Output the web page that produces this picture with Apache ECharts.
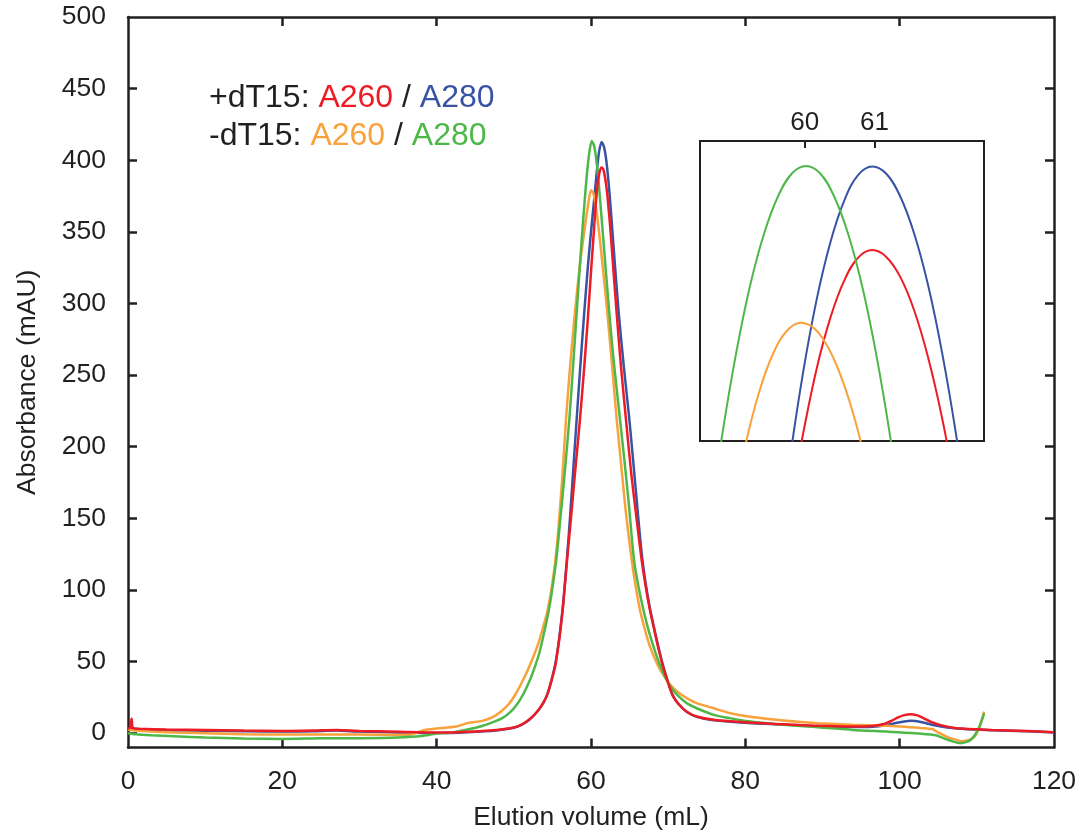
<!DOCTYPE html>
<html>
<head>
<meta charset="utf-8">
<script src="https://cdn.jsdelivr.net/npm/echarts@6/dist/echarts.min.js"></script>
<style>
html,body{margin:0;padding:0;background:#fff;}
#chart{width:1085px;height:838px;}
</style>
</head>
<body>
<div id="chart"></div>
<script>
// ---- Data: [elution volume (mL), absorbance (mAU)] ----
const plusA260 = [[0,3],[0.3,4],[0.47,10],[0.65,3.5],[1.5,3.1],[5,2.6],[10,2.2],[15,1.8],[20,1.6],[24,1.9],[27,2.3],[30,1.6],[35,1.0],[40,0.4],[44,1.0],[47.7,2.3],[50,4],[51,6],[52,9.5],[53,15],[53.8,21],[54.4,28],[54.9,37],[55.4,48],[55.8,62],[56.1,75],[56.4,90],[56.9,121],[57.4,150],[57.9,180],[58.57,219],[59.1,254],[59.6,290],[60.0,322],[60.43,355],[60.6,368],[60.85,383],[61.1,391.5],[61.38,394.9],[61.6,393.6],[61.85,386.9],[62.1,376.7],[62.3,365],[62.45,356],[62.8,331],[63.3,295],[63.9,255],[64.53,219],[65.2,182],[65.9,150],[66.56,121],[67.1,102],[67.64,86],[68.2,72],[68.7,60],[69.3,47],[70.0,35],[70.6,26],[71.4,20],[72.4,15],[73.7,11.6],[75.9,9.3],[80.4,7.4],[84.9,6.3],[89.4,5.1],[93.9,4.6],[96.5,5.0],[97.8,6.2],[99,8.8],[99.8,11],[100.6,12.6],[101.4,13.3],[102.2,12.6],[102.9,11],[104,8],[105.2,5.8],[107.4,3.5],[112,2.3],[116.4,1.6],[120,0.7]];
const plusA280 = [[0,2.5],[0.5,3.5],[1.5,2.6],[5,2.1],[10,1.7],[15,1.3],[20,1.1],[24,1.4],[27,1.8],[30,1.1],[35,0.5],[40,0.1],[44,0.7],[47.7,1.9],[50,3.8],[51,5.8],[52,9.3],[53,14.8],[53.8,21],[54.4,28],[54.9,37.5],[55.4,49],[55.8,63],[56.1,76],[56.4,91],[56.9,123],[57.3,152],[57.7,184],[58.14,219],[58.6,255],[59.1,292],[59.6,326],[60.0,350],[60.4,372],[60.75,392],[61.05,406],[61.38,412.8],[61.7,409],[62.0,399],[62.35,380],[62.7,356],[63.1,327],[63.6,293],[64.25,256],[64.97,219],[65.6,182],[66.1,152],[66.6,124],[67.1,104],[67.64,87],[68.2,73],[68.7,61],[69.3,48],[70.0,35.5],[70.6,26.5],[71.4,20],[72.4,15],[73.7,11.4],[75.9,9.0],[80.4,7.1],[84.9,6.0],[89.4,4.8],[93.9,4.3],[96.5,4.5],[98,5.3],[99.8,7.4],[101.4,8.6],[102.9,7.6],[104.5,5.5],[107.4,3.2],[112,2.1],[116.4,1.4],[120,0.5]];
const minusA260 = [[0,2.5],[1,1.8],[3,1.2],[6,0.5],[10,0],[15,-0.7],[20,-1],[25,-1],[30,-1],[35,-1.2],[36.6,-1],[38.3,2],[40,3.2],[42.5,4.6],[44.1,7.2],[45.9,8.6],[47.2,11],[48.3,15],[49.3,20],[50.2,27],[51.0,35],[51.8,44],[52.5,53],[53.2,63],[53.8,74],[54.3,84],[54.7,95],[55.0,105],[55.3,117],[55.6,132],[55.8,144],[56.3,180],[56.76,219],[57.2,250],[57.7,281],[58.2,309],[58.7,333],[59.2,353],[59.6,368],[60.0,379.1],[60.3,377],[60.6,369],[61.0,352],[61.5,327],[62.0,300],[62.6,265],[63.33,219],[63.9,188],[64.5,155],[65.27,121],[65.8,102],[66.35,86],[67.0,72],[67.64,60.4],[68.7,47],[69.8,37.2],[70.5,32.5],[71.4,28],[72.4,24.5],[73.7,21],[75.9,17.4],[78,14],[80.4,11.6],[84.9,8.8],[89.4,7.0],[93.9,5.8],[98.4,5.1],[102.9,3.5],[104.3,2.8],[104.8,1],[105.5,-0.8],[106.3,-3],[107.4,-4.7],[107.9,-5.6],[108.8,-5],[109.7,-2.4],[110.4,5],[110.95,15]];
const minusA280 = [[0,0],[1,-0.8],[3,-1.5],[6,-2.2],[10,-3],[15,-3.8],[20,-4],[25,-3.6],[30,-3.5],[35,-3],[38,-2],[40,-0.3],[42,0.5],[44,2.5],[45.9,5],[47.2,7.5],[48.5,10.5],[49.5,14.5],[50.4,20],[51.2,27],[52.0,36],[52.7,46],[53.3,56],[54.0,72],[54.5,85],[54.9,97.7],[55.5,121],[56.0,148],[56.6,182],[57.19,219],[57.6,250],[58.0,282],[58.4,314],[58.8,345],[59.2,373],[59.5,392],[59.8,406],[60.09,413.5],[60.4,410],[60.7,400],[61.0,384],[61.4,358],[61.8,331],[62.3,298],[62.9,262],[63.76,219],[64.3,192],[64.9,160],[65.57,121],[66.2,101],[66.8,86],[67.4,73],[68.1,60.4],[68.9,48],[69.8,37.2],[70.5,31],[71.4,25.5],[72.4,21],[73.7,17.4],[75.9,12.8],[78,10.5],[80.4,8.3],[84.9,5.8],[89.4,4.2],[93.9,2.3],[98.4,1.1],[102,0],[104,-1],[104.8,-1.6],[105.2,-2.4],[106.5,-5.1],[107.9,-7],[109.2,-4.7],[110.2,3],[110.95,14]];

// Inset (zoom on the peak tops)
const insetPlusA260 = [[59.87,345.4],[59.97,354],[60.17,368.8],[60.37,380.2],[60.57,388.4],[60.77,393.4],[60.97,395],[61.17,393.5],[61.37,389.1],[61.57,381.7],[61.77,371.3],[61.97,358],[62.17,341.7]];
const insetPlusA280 = [[59.77,347.2],[59.97,367.4],[60.17,384],[60.37,396.8],[60.57,406],[60.77,411.6],[60.97,413.4],[61.17,411.8],[61.37,406.8],[61.57,398.6],[61.77,387.2],[61.97,372.4],[62.17,354.4],[62.37,333]];
const insetMinusA260 = [[58.95,337],[59.15,352.1],[59.35,363.9],[59.55,372.3],[59.75,377.3],[59.95,379],[60.15,377.6],[60.35,373.2],[60.55,366],[60.75,356],[60.95,343]];
const insetMinusA280 = [[58.62,333.1],[58.82,354.5],[59.02,372.5],[59.22,387.3],[59.42,398.7],[59.62,406.9],[59.82,411.9],[60.02,413.5],[60.22,411.9],[60.42,406.9],[60.62,398.7],[60.82,387.3],[61.02,372.5],[61.22,354.5],[61.42,333.1]];

const xTicks = [0,20,40,60,80,100,120];
const yTicks = [0,50,100,150,200,250,300,350,400,450,500];
const insetTicks = [60,61];

const C = {red:'#ed1c24', blue:'#3953a4', orange:'#f9a13a', green:'#4db848', axis:'#231f20'};
const FONT = 'Liberation Sans, Arial, Helvetica, sans-serif';

const chart = echarts.init(document.getElementById('chart'), null, {renderer:'canvas'});

function mainLine(name, data, color){
  return {name, type:'line', data, xAxisIndex:0, yAxisIndex:0, showSymbol:false, symbol:'none',
    smooth:0.25, lineStyle:{color, width:2.5}, clip:true, z:3};
}
function insetLine(name, data, color){
  return {name, type:'line', data, xAxisIndex:2, yAxisIndex:2, showSymbol:false, symbol:'none',
    smooth:0.4, lineStyle:{color, width:2}, clip:true, z:5};
}
const axisLine = {show:true, onZero:false, lineStyle:{color:C.axis, width:2.5}};
const tick = (vals) => ({show:true, inside:true, length:9, lineStyle:{color:C.axis, width:2.5}, customValues:vals});

chart.setOption({
  animation:false,
  backgroundColor:'#fff',
  grid:[
    {left:128, right:31, top:17, bottom:90.5},
    {left:700, top:141, width:284, height:300, show:true, borderColor:C.axis, borderWidth:2, backgroundColor:'#fff', z:4}
  ],
  xAxis:[
    {gridIndex:0, type:'value', min:0, max:120, interval:20, position:'bottom',
      axisLine, axisTick:tick([20,40,60,80,100]),
      axisLabel:{fontSize:26.5, color:C.axis, fontFamily:FONT, margin:21, customValues:xTicks},
      splitLine:{show:false},
      name:'Elution volume (mL)', nameLocation:'middle', nameGap:57,
      nameTextStyle:{fontSize:26.5, color:C.axis, fontFamily:FONT}},
    {gridIndex:0, type:'value', min:0, max:120, interval:20, position:'top',
      axisLine, axisTick:tick([20,40,60,80,100]),
      axisLabel:{show:false}, splitLine:{show:false}},
    {gridIndex:1, type:'value', min:58.5, max:62.57, position:'top',
      axisLine:{show:false, onZero:false},
      axisTick:{show:true, inside:true, length:7, lineStyle:{color:C.axis, width:2}, customValues:insetTicks},
      axisLabel:{fontSize:26, color:C.axis, fontFamily:FONT, margin:5, customValues:insetTicks},
      splitLine:{show:false}, z:6}
  ],
  yAxis:[
    {gridIndex:0, type:'value', min:-10, max:500, position:'left',
      axisLine, axisTick:tick([0,50,100,150,200,250,300,350,400,450]),
      axisLabel:{fontSize:26.5, color:C.axis, fontFamily:FONT, margin:22, customValues:yTicks},
      splitLine:{show:false},
      name:'Absorbance (mAU)', nameLocation:'middle', nameGap:87,
      nameTextStyle:{fontSize:26.5, color:C.axis, fontFamily:FONT}},
    {gridIndex:0, type:'value', min:-10, max:500, position:'right',
      axisLine, axisTick:tick([50,100,150,200,250,300,350,400,450]),
      axisLabel:{show:false}, splitLine:{show:false}},
    {gridIndex:1, type:'value', min:353, max:419, show:false}
  ],
  graphic:[
    {type:'text', x:209, y:98, z:10, style:{
      text:'{k|+dT15: }{r|A260}{k| / }{b|A280}', verticalAlign:'middle', align:'left',
      rich:{
        k:{fill:C.axis, fontSize:32, fontFamily:FONT},
        r:{fill:C.red, fontSize:32, fontFamily:FONT},
        b:{fill:C.blue, fontSize:32, fontFamily:FONT}
      }}},
    {type:'text', x:209, y:136, z:10, style:{
      text:'{k|-dT15: }{o|A260}{k| / }{g|A280}', verticalAlign:'middle', align:'left',
      rich:{
        k:{fill:C.axis, fontSize:32, fontFamily:FONT},
        o:{fill:C.orange, fontSize:32, fontFamily:FONT},
        g:{fill:C.green, fontSize:32, fontFamily:FONT}
      }}}
  ],
  series:[
    mainLine('+dT15 A280', plusA280, C.blue),
    mainLine('-dT15 A260', minusA260, C.orange),
    mainLine('-dT15 A280', minusA280, C.green),
    mainLine('+dT15 A260', plusA260, C.red),
    insetLine('+dT15 A280 inset', insetPlusA280, C.blue),
    insetLine('+dT15 A260 inset', insetPlusA260, C.red),
    insetLine('-dT15 A260 inset', insetMinusA260, C.orange),
    insetLine('-dT15 A280 inset', insetMinusA280, C.green)
  ]
});
</script>
</body>
</html>
